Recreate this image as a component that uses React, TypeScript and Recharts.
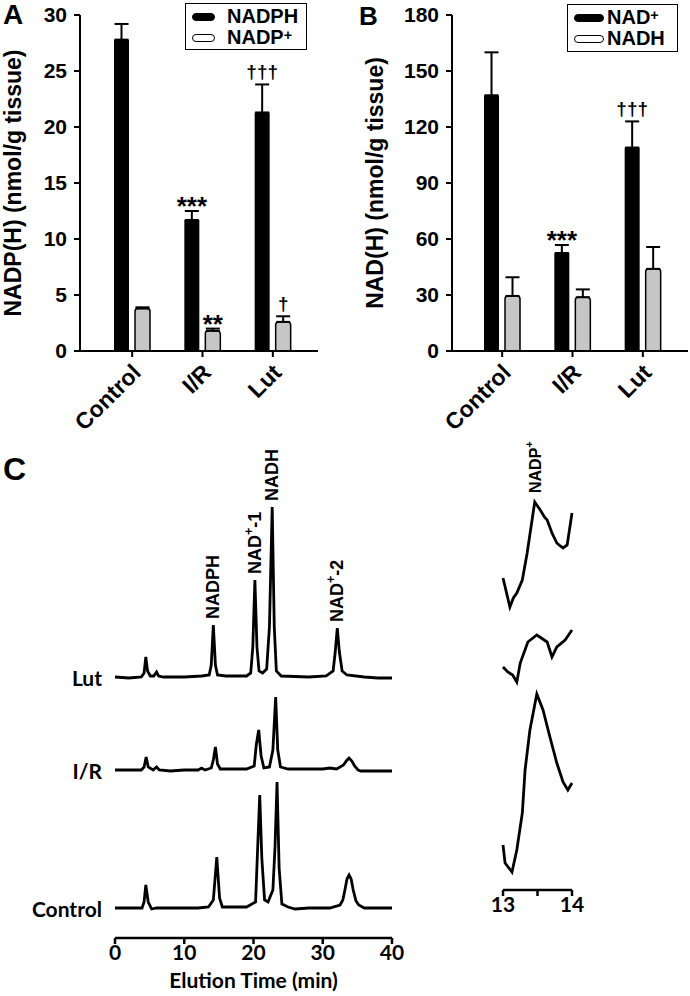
import React from 'react'
import { BarChart, Bar, XAxis, YAxis, ErrorBar, Legend, LineChart, Line, ReferenceDot } from 'recharts'

const ARIAL = '"Liberation Sans", Arial, sans-serif'
const CALIBRI = 'Lato, "Open Sans", sans-serif'

const groups = ['Control', 'I/R', 'Lut']

// A: NADP(H), nmol/g tissue
const nadphVals = [27.8, 11.7, 21.3]
const nadphErr = [1.4, 0.8, 2.5]
const nadpPlusVals = [3.8, 1.8, 2.6]
const nadpPlusErr = [0.1, 0.2, 0.5]
const nadphMarks = ['', '***', '†††']
const nadpPlusMarks = ['', '**', '†']
const ticksA = [0, 5, 10, 15, 20, 25, 30]

// B: NAD(H), nmol/g tissue
const nadPlusVals = [137, 52.5, 109]
const nadPlusErr = [23, 4.3, 14]
const nadhVals = [29.5, 28.8, 44]
const nadhErr = [10, 4.2, 11.7]
const nadPlusMarks = ['', '***', '†††']
const nadhMarks = ['', '', '']
const ticksB = [0, 30, 60, 90, 120, 150, 180]

// C: HPLC traces, elution time (min) vs detector signal (arbitrary units)
const lutTrace = [
  { t: 0, v: 0 }, { t: 2, v: -1 }, { t: 3.8, v: 0 }, { t: 4.2, v: 4 }, { t: 4.45, v: 20 }, { t: 4.7, v: 6 },
  { t: 5.1, v: 1 }, { t: 5.6, v: 1 }, { t: 6.0, v: 5 }, { t: 6.3, v: 1 }, { t: 7, v: 0 }, { t: 10, v: 0 },
  { t: 12.5, v: 1 }, { t: 13.6, v: 2 }, { t: 13.9, v: 12 }, { t: 14.2, v: 52 }, { t: 14.5, v: 12 },
  { t: 14.8, v: 2 }, { t: 16, v: 1 }, { t: 19, v: 1 }, { t: 19.6, v: 4 }, { t: 19.9, v: 30 }, { t: 20.2, v: 97 },
  { t: 20.5, v: 30 }, { t: 20.8, v: 6 }, { t: 21.3, v: 4 }, { t: 21.9, v: 8 }, { t: 22.3, v: 50 },
  { t: 22.7, v: 170 }, { t: 23.0, v: 50 }, { t: 23.3, v: 6 }, { t: 24, v: 1 }, { t: 28, v: 0 },
  { t: 30.5, v: 1 }, { t: 31.5, v: 6 }, { t: 31.8, v: 25 }, { t: 32.1, v: 49 }, { t: 32.4, v: 25 },
  { t: 32.8, v: 6 }, { t: 33.5, v: 2 }, { t: 36, v: 0 }, { t: 38, v: -1 }, { t: 40, v: -1 },
]
const irTrace = [
  { t: 0, v: 0 }, { t: 3.8, v: 0 }, { t: 4.2, v: 3 }, { t: 4.5, v: 13 }, { t: 4.8, v: 3 }, { t: 5.5, v: 0 },
  { t: 6.0, v: 3 }, { t: 6.4, v: 0 }, { t: 8, v: -1 }, { t: 10, v: 0 }, { t: 12, v: 0 }, { t: 12.5, v: 2 },
  { t: 13, v: 0 }, { t: 13.9, v: 2 }, { t: 14.2, v: 10 }, { t: 14.5, v: 23 }, { t: 14.8, v: 6 },
  { t: 15.2, v: 1 }, { t: 19, v: 1 }, { t: 20.1, v: 4 }, { t: 20.4, v: 25 }, { t: 20.75, v: 40 },
  { t: 21.1, v: 14 }, { t: 21.5, v: 2 }, { t: 22.3, v: 3 }, { t: 22.8, v: 20 }, { t: 23.2, v: 73 },
  { t: 23.5, v: 20 }, { t: 23.9, v: 3 }, { t: 25, v: 1 }, { t: 30, v: 1 }, { t: 31, v: 2 }, { t: 32, v: 1 },
  { t: 33, v: 5 }, { t: 33.4, v: 9 }, { t: 33.8, v: 12 }, { t: 34.2, v: 9 }, { t: 34.6, v: 4 },
  { t: 35.1, v: 0 }, { t: 35.5, v: -1 }, { t: 40, v: -1 },
]
const controlTrace = [
  { t: 0, v: 0 }, { t: 3.9, v: 0 }, { t: 4.2, v: 6 }, { t: 4.45, v: 23 }, { t: 4.8, v: 6 }, { t: 5.3, v: -1 },
  { t: 6, v: 0 }, { t: 10, v: 0 }, { t: 12, v: 0 }, { t: 13.5, v: 1 }, { t: 14.2, v: 8 }, { t: 14.7, v: 51 },
  { t: 15.1, v: 10 }, { t: 15.5, v: 1 }, { t: 19, v: 1 }, { t: 20.3, v: 6 }, { t: 20.6, v: 60 },
  { t: 20.9, v: 113 }, { t: 21.2, v: 50 }, { t: 21.6, v: 8 }, { t: 22.1, v: 6 }, { t: 22.8, v: 18 },
  { t: 23.1, v: 60 }, { t: 23.4, v: 126 }, { t: 23.7, v: 40 }, { t: 24.1, v: 4 }, { t: 25, v: 1 },
  { t: 26, v: -1 }, { t: 28, v: 0 }, { t: 31, v: 0 }, { t: 32.5, v: 3 }, { t: 32.9, v: 8 }, { t: 33.2, v: 18 },
  { t: 33.5, v: 29 }, { t: 33.8, v: 33 }, { t: 34.1, v: 29 }, { t: 34.4, v: 18 }, { t: 34.8, v: 7 },
  { t: 35.2, v: 3 }, { t: 36, v: 0 }, { t: 40, v: 0 },
]
const peakNames = [
  { t: 14.2, name: 'NADPH' },
  { t: 20.2, name: 'NAD+-1' },
  { t: 22.7, name: 'NADH' },
  { t: 32.1, name: 'NAD+-2' },
]
const timeTicks = [0, 10, 20, 30, 40]

// C inset: 13-14 min window, magnified
const lutZoom = [
  { t: 13.0, v: 32 }, { t: 13.1, v: 3 }, { t: 13.15, v: 12 }, { t: 13.2, v: 17 }, { t: 13.28, v: 30 },
  { t: 13.35, v: 57 }, { t: 13.46, v: 108 }, { t: 13.5, v: 104 }, { t: 13.54, v: 100 }, { t: 13.6, v: 93 },
  { t: 13.64, v: 90 }, { t: 13.71, v: 77 }, { t: 13.78, v: 67 }, { t: 13.83, v: 64 }, { t: 13.87, v: 62 },
  { t: 13.93, v: 65 }, { t: 14.0, v: 97 },
]
const irZoom = [
  { t: 13.0, v: 15 }, { t: 13.07, v: 10 }, { t: 13.14, v: 7 }, { t: 13.2, v: 0 }, { t: 13.25, v: 19 },
  { t: 13.36, v: 40 }, { t: 13.49, v: 47 }, { t: 13.64, v: 40 }, { t: 13.71, v: 25 }, { t: 13.78, v: 35 },
  { t: 13.9, v: 42 }, { t: 14.0, v: 52 },
]
const controlZoom = [
  { t: 13.0, v: 27 }, { t: 13.03, v: 9 }, { t: 13.13, v: 0 }, { t: 13.2, v: 22 }, { t: 13.28, v: 59 },
  { t: 13.32, v: 102 }, { t: 13.39, v: 142 }, { t: 13.49, v: 178 }, { t: 13.58, v: 162 }, { t: 13.68, v: 135 },
  { t: 13.78, v: 109 }, { t: 13.87, v: 90 }, { t: 13.94, v: 82 }, { t: 14.0, v: 89 },
]
const zoomPeak = { t: 13.46, name: 'NADP+' }
const zoomTicks = [13, 13.5, 14]

const black = '#000'

function supHtml(s: string) {
  const i = s.indexOf('+')
  if (i < 0) return s
  return (
    <>
      {s.slice(0, i)}
      <span style={{ fontSize: '0.72em', position: 'relative', top: '-0.3em', lineHeight: 1 }}>+</span>
      {s.slice(i + 1)}
    </>
  )
}

function SupSpans({ text, size }: { text: string; size: number }) {
  const i = text.indexOf('+')
  if (i < 0) return <>{text}</>
  return (
    <>
      <tspan>{text.slice(0, i)}</tspan>
      <tspan fontSize={size * 0.7} dy={-size * 0.35}>+</tspan>
      <tspan fontSize={size} dy={size * 0.35}>{text.slice(i + 1)}</tspan>
    </>
  )
}

interface LegendBoxProps {
  payload?: any[]
  width: number
  height: number
  swatch: number
  gap: number
}

function LegendBox({ payload, width, height, swatch, gap }: LegendBoxProps) {
  return (
    <div style={{
      boxSizing: 'border-box', width, height, border: '1.5px solid #000', background: '#fff',
      padding: '2px 0 0 6px', fontFamily: ARIAL, fontWeight: 'bold', fontSize: 20, lineHeight: '21px',
    }}>
      {(payload || []).map((e, i) => (
        <div key={i} style={{ display: 'flex', alignItems: 'center', whiteSpace: 'nowrap', height: 21 }}>
          <span style={{
            display: 'inline-block', boxSizing: 'border-box', width: swatch, height: 8, marginRight: gap,
            background: i === 0 ? black : '#fff', border: '1.5px solid #000', borderRadius: 4,
          }} />
          <span>{supHtml(String(e.value))}</span>
        </div>
      ))}
    </div>
  )
}

const markLabel = (marks: string[], errs: number[]) => (p: any) => {
  const s = marks[p.index]
  if (!s) return null
  const h = Number(p.height)
  const v = Number(p.value)
  const top = Number(p.y) - (errs[p.index] * h) / v
  const dagger = s.includes('†')
  return (
    <text x={Number(p.x) + Number(p.width) / 2} y={dagger ? top - 6 : top + 4} textAnchor="middle"
      fontFamily={ARIAL} fontWeight="bold" fontSize={dagger ? 19 : 26} fill={black}>
      {s}
    </text>
  )
}

const SlantTick = (p: any) => (
  <text transform={`translate(${p.x + 10},${p.y + 15}) rotate(-45)`} textAnchor="end"
    fontFamily={ARIAL} fontWeight="bold" fontSize={23} fill={black}>
    {p.payload.value}
  </text>
)

const yTitle = (text: string, dx: number) => (p: any) => {
  const vb = p.viewBox
  const cx = vb.x + dx
  const cy = vb.y + vb.height / 2
  return (
    <text transform={`translate(${cx},${cy}) rotate(-90)`} textAnchor="middle" dominantBaseline="central"
      fontFamily={ARIAL} fontWeight="bold" fontSize={23} fill={black}>
      {text}
    </text>
  )
}

interface BarPanelProps {
  vals1: number[]
  err1: number[]
  marks1: string[]
  name1: string
  vals2: number[]
  err2: number[]
  marks2: string[]
  name2: string
  ticks: number[]
  yLabel: string
  labelDx: number
  marginLeft: number
  marginRight: number
  pad: { left: number; right: number }
  legend: { left: number; top: number; width: number; height: number; swatch: number; gap: number }
}

function BarPanel(props: BarPanelProps) {
  const data = groups.map((g, i) => ({
    group: g,
    a: props.vals1[i],
    aErr: [0, props.err1[i]],
    b: props.vals2[i],
    bErr: [0, props.err2[i]],
  }))
  const lg = props.legend
  return (
    <BarChart width={345} height={450} data={data} barSize={15} barGap={6}
      margin={{ top: 15, right: props.marginRight, left: props.marginLeft, bottom: 24 }}>
      <XAxis dataKey="group" height={75} padding={props.pad} tick={<SlantTick />} interval={0}
        axisLine={{ stroke: black, strokeWidth: 2 }} tickLine={{ stroke: black, strokeWidth: 2 }} tickSize={6} />
      <YAxis width={70} domain={[props.ticks[0], props.ticks[props.ticks.length - 1]]} ticks={props.ticks}
        interval={0} tickSize={6} tickMargin={7}
        tick={{ fill: black, fontSize: 21, fontFamily: ARIAL, fontWeight: 'bold' }}
        axisLine={{ stroke: black, strokeWidth: 2 }} tickLine={{ stroke: black, strokeWidth: 2 }}
        label={yTitle(props.yLabel, props.labelDx)} />
      <Legend layout="horizontal" verticalAlign="middle" align="center" itemSorter="dataKey"
        wrapperStyle={{ left: lg.left, top: lg.top, width: lg.width, height: lg.height }}
        content={(p: any) => <LegendBox payload={p.payload} width={lg.width} height={lg.height} swatch={lg.swatch} gap={lg.gap} />} />
      <Bar dataKey="a" name={props.name1} fill={black} isAnimationActive={false}
        label={markLabel(props.marks1, props.err1)}>
        <ErrorBar dataKey="aErr" width={7} stroke={black} strokeWidth={2} direction="y" />
      </Bar>
      <Bar dataKey="b" name={props.name2} fill="#c6c6c6" stroke={black} strokeWidth={1.5} radius={[3, 3, 0, 0]}
        isAnimationActive={false} label={markLabel(props.marks2, props.err2)}>
        <ErrorBar dataKey="bErr" width={7} stroke={black} strokeWidth={2} direction="y" />
      </Bar>
    </BarChart>
  )
}

const PeakTag = (name: string, size: number, gap: number) => (p: any) => {
  const vb = p.viewBox
  const x = vb.x + vb.width / 2
  const y = vb.y - gap
  return (
    <text transform={`translate(${x},${y}) rotate(-90)`} textAnchor="start" dominantBaseline="central"
      fontFamily={ARIAL} fontWeight={700} fontSize={size} fill={black}>
      <SupSpans text={name} size={size} />
    </text>
  )
}

const TraceName = (name: string) => (p: any) => {
  const vb = p.viewBox
  return (
    <text x={vb.x - 13} y={vb.y} textAnchor="end" dominantBaseline="central"
      fontFamily={CALIBRI} fontWeight={700} fontSize={21} fill={black}>
      {name}
    </text>
  )
}

const timeTitle = (p: any) => {
  const vb = p.viewBox
  return (
    <text x={vb.x + vb.width / 2} y={vb.y + 50} textAnchor="middle"
      fontFamily={CALIBRI} fontWeight={700} fontSize={21} fill={black}>
      Elution Time (min)
    </text>
  )
}

const traceStyle = { stroke: black, strokeWidth: 2.8, dot: false, isAnimationActive: false, type: 'linear' as const }
const axisTickStyle = { fill: black, fontSize: 21, fontFamily: CALIBRI, fontWeight: 700 }

function Chromatogram() {
  const v = (t: number) => lutTrace.find((p) => p.t === t)?.v ?? 0
  return (
    <LineChart width={420} height={576} margin={{ top: 20, right: 28, left: 115, bottom: 8 }}>
      <XAxis dataKey="t" type="number" domain={[0, 40]} ticks={timeTicks} interval={0} height={50}
        tickSize={6} tickMargin={1} tick={axisTickStyle}
        axisLine={{ stroke: black, strokeWidth: 2.5 }} tickLine={{ stroke: black, strokeWidth: 2.5 }}
        label={timeTitle} />
      <YAxis yAxisId="lut" hide type="number" domain={[-261, 237]} allowDataOverflow />
      <YAxis yAxisId="ir" hide type="number" domain={[-168, 330]} allowDataOverflow />
      <YAxis yAxisId="ctl" hide type="number" domain={[-30, 468]} allowDataOverflow />
      <Line yAxisId="lut" data={lutTrace} dataKey="v" {...traceStyle} />
      <Line yAxisId="ir" data={irTrace} dataKey="v" {...traceStyle} />
      <Line yAxisId="ctl" data={controlTrace} dataKey="v" {...traceStyle} />
      <ReferenceDot yAxisId="lut" x={0} y={0} r={0} ifOverflow="visible" label={TraceName('Lut')} />
      <ReferenceDot yAxisId="ir" x={0} y={0} r={0} ifOverflow="visible" label={TraceName('I/R')} />
      <ReferenceDot yAxisId="ctl" x={0} y={0} r={0} ifOverflow="visible" label={TraceName('Control')} />
      {peakNames.map((pk) => (
        <ReferenceDot key={pk.name} yAxisId="lut" x={pk.t} y={v(pk.t)} r={0} ifOverflow="visible"
          label={PeakTag(pk.name, 18, 6)} />
      ))}
    </LineChart>
  )
}

function ZoomInset() {
  const peakV = lutZoom.find((p) => p.t === zoomPeak.t)?.v ?? 0
  return (
    <LineChart width={240} height={576} margin={{ top: 20, right: 118, left: 53, bottom: 56 }}>
      <XAxis dataKey="t" type="number" domain={[13, 14]} ticks={zoomTicks} interval={0} height={50}
        tickSize={6} tickMargin={1} tick={axisTickStyle}
        tickFormatter={(x: number) => (x === 13.5 ? '' : String(x))}
        axisLine={{ stroke: black, strokeWidth: 2.5 }} tickLine={{ stroke: black, strokeWidth: 2.5 }} />
      <YAxis yAxisId="lut" hide type="number" domain={[-280, 170]} allowDataOverflow />
      <YAxis yAxisId="ir" hide type="number" domain={[-208, 242]} allowDataOverflow />
      <YAxis yAxisId="ctl" hide type="number" domain={[-18, 432]} allowDataOverflow />
      <Line yAxisId="lut" data={lutZoom} dataKey="v" {...traceStyle} />
      <Line yAxisId="ir" data={irZoom} dataKey="v" {...traceStyle} />
      <Line yAxisId="ctl" data={controlZoom} dataKey="v" {...traceStyle} />
      <ReferenceDot yAxisId="lut" x={zoomPeak.t} y={peakV} r={0} ifOverflow="visible"
        label={PeakTag(zoomPeak.name, 16, 9)} />
    </LineChart>
  )
}

const letter = (size: number) => ({
  position: 'absolute' as const, fontFamily: ARIAL, fontWeight: 'bold' as const, fontSize: size, lineHeight: 1,
})

export default function App() {
  return (
    <div style={{ position: 'absolute', left: 0, top: 0, width: 690, height: 996, background: '#fff', overflow: 'hidden' }}>
      <div style={{ position: 'absolute', left: 0, top: 0 }}>
        <BarPanel vals1={nadphVals} err1={nadphErr} marks1={nadphMarks} name1="NADPH"
          vals2={nadpPlusVals} err2={nadpPlusErr} marks2={nadpPlusMarks} name2="NADP+"
          ticks={ticksA} yLabel="NADP(H) (nmol/g tissue)" labelDx={3} marginLeft={10} marginRight={27}
          pad={{ left: 17, right: 10 }}
          legend={{ left: 185, top: 3, width: 122, height: 47, swatch: 23, gap: 12 }} />
      </div>
      <div style={{ position: 'absolute', left: 345, top: 0 }}>
        <BarPanel vals1={nadPlusVals} err1={nadPlusErr} marks1={nadPlusMarks} name1="NAD+"
          vals2={nadhVals} err2={nadhErr} marks2={nadhMarks} name2="NADH"
          ticks={ticksB} yLabel="NAD(H) (nmol/g tissue)" labelDx={-7} marginLeft={37} marginRight={2}
          pad={{ left: 15, right: 10 }}
          legend={{ left: 222, top: 4, width: 111, height: 48, swatch: 30, gap: 3 }} />
      </div>
      <div style={{ position: 'absolute', left: 0, top: 420 }}>
        <Chromatogram />
      </div>
      <div style={{ position: 'absolute', left: 450, top: 420 }}>
        <ZoomInset />
      </div>
      <div style={{ ...letter(28), left: 3, top: 1 }}>A</div>
      <div style={{ ...letter(26), left: 359, top: 3 }}>B</div>
      <div style={{ ...letter(32), left: 3, top: 453 }}>C</div>
    </div>
  )
}
